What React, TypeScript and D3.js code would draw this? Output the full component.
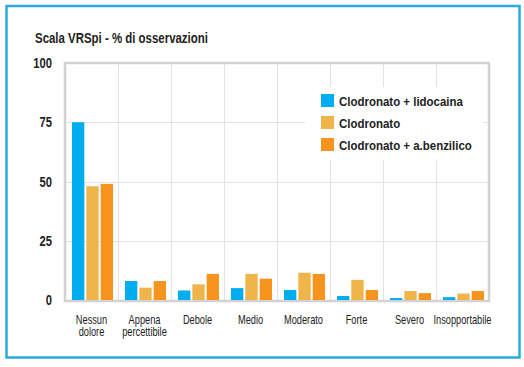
import React, { useEffect, useRef } from 'react';
import * as d3 from 'd3';

const categories = [
  'Nessun dolore',
  'Appena percettibile',
  'Debole',
  'Medio',
  'Moderato',
  'Forte',
  'Severo',
  'Insopportabile',
];
const categoryLines = [
  ['Nessun', 'dolore'],
  ['Appena', 'percettibile'],
  ['Debole'],
  ['Medio'],
  ['Moderato'],
  ['Forte'],
  ['Severo'],
  ['Insopportabile'],
];
const seriesNames = ['Clodronato + lidocaina', 'Clodronato', 'Clodronato + a.benzilico'];
const lidocaina = [75, 8, 4, 5, 4.2, 1.7, 0.8, 1.2];
const clodronato = [48, 5.2, 6.6, 11, 11.5, 8.5, 3.8, 2.7];
const benzilico = [49, 8, 11, 9, 11, 4.2, 2.9, 3.8];
const yTicks = [0, 25, 50, 75, 100];
const colors = ['#00aeef', '#efb44a', '#f7941d'];

const FONT = '"Liberation Sans", Arial, sans-serif';

// condensed text: draw with a horizontal squeeze
const label = (
  parent: d3.Selection<SVGGElement, unknown, null, undefined>,
  x: number, y: number, txt: string,
  opts: { size: number; bold?: boolean; anchor?: string; sx?: number }
) => {
  parent.append('g')
    .attr('transform', `translate(${x},${y}) scale(${opts.sx ?? 0.78},1)`)
    .append('text')
    .attr('text-anchor', opts.anchor ?? 'start')
    .attr('font-family', FONT)
    .attr('font-weight', opts.bold ? 'bold' : 'normal')
    .attr('font-size', opts.size)
    .attr('fill', '#222')
    .text(txt);
};

const App = () => {
  const ref = useRef<SVGSVGElement>(null);

  useEffect(() => {
    if (!ref.current) return;
    const svg = d3.select(ref.current);
    svg.selectAll('*').remove();

    const W = 524;
    const H = 367;
    const plot = { left: 65, right: 489, top: 63, bottom: 300 };

    svg.append('rect').attr('width', W).attr('height', H).attr('fill', '#fff');
    const root = svg.append('g');

    // outer blue frame
    root.append('rect')
      .attr('x', 6.5).attr('y', 6)
      .attr('width', 513).attr('height', 351.5)
      .attr('fill', 'none')
      .attr('stroke', '#29abe2')
      .attr('stroke-width', 2.5);

    // title
    label(root, 35, 43, 'Scala VRSpi - % di osservazioni', { size: 14.5, bold: true, sx: 0.79 });

    const x = d3.scaleBand<string>()
      .domain(categories)
      .range([plot.left, plot.right]);

    const y = d3.scaleLinear()
      .domain([0, 100])
      .range([plot.bottom, plot.top]);

    const xs = d3.scaleBand<string>()
      .domain(seriesNames)
      .range([7, x.bandwidth() - 5])
      .paddingInner(0.14);

    // grid
    const grid = root.append('g').attr('stroke', '#e2e2e2').attr('stroke-width', 1);
    yTicks.slice(1, -1).forEach(t => {
      grid.append('line')
        .attr('x1', plot.left).attr('x2', plot.right)
        .attr('y1', Math.round(y(t)) + 0.5).attr('y2', Math.round(y(t)) + 0.5);
    });
    categories.slice(1).forEach(c => {
      const gx = Math.round(x(c)!) + 0.5;
      grid.append('line')
        .attr('x1', gx).attr('x2', gx)
        .attr('y1', plot.top).attr('y2', plot.bottom);
    });

    // plot frame
    root.append('rect')
      .attr('x', plot.left).attr('y', plot.top)
      .attr('width', plot.right - plot.left)
      .attr('height', plot.bottom - plot.top + 1)
      .attr('fill', 'none')
      .attr('stroke', '#d2d2d2')
      .attr('stroke-width', 2.5);

    // y tick labels
    const yl = root.append('g');
    yTicks.forEach(t => label(yl, 52, y(t) + 5, String(t), { size: 14, bold: true, anchor: 'end', sx: 0.8 }));

    // bars
    const series = [lidocaina, clodronato, benzilico];
    series.forEach((vals, si) => {
      root.append('g')
        .selectAll('rect')
        .data(vals)
        .enter().append('rect')
        .attr('x', (d, i) => x(categories[i])! + xs(seriesNames[si])!)
        .attr('width', xs.bandwidth())
        .attr('y', d => y(d))
        .attr('height', d => y(0) - y(d))
        .attr('fill', colors[si]);
    });

    // category labels
    const lbl = root.append('g');
    categoryLines.forEach((lines, i) => {
      const cx = x(categories[i])! + x.bandwidth() / 2;
      lines.forEach((ln, j) => {
        label(lbl, cx, 324 + j * 12, ln, { size: 12, anchor: 'middle', sx: 0.77 });
      });
    });

    // legend
    const lg = root.append('g');
    lg.append('rect')
      .attr('x', 305).attr('y', 87)
      .attr('width', 178).attr('height', 73)
      .attr('fill', '#fff');
    seriesNames.forEach((name, i) => {
      const ly = 94 + i * 22;
      lg.append('rect')
        .attr('x', 321).attr('y', ly)
        .attr('width', 13).attr('height', 13)
        .attr('fill', colors[i]);
      label(lg, 339, ly + 11.5, name, { size: 13.5, bold: true, sx: 0.85 });
    });
  }, []);

  return (
    <svg
      ref={ref}
      width={524}
      height={367}
      style={{ position: 'absolute', left: 0, top: 0, display: 'block' }}
    />
  );
};

export default App;
